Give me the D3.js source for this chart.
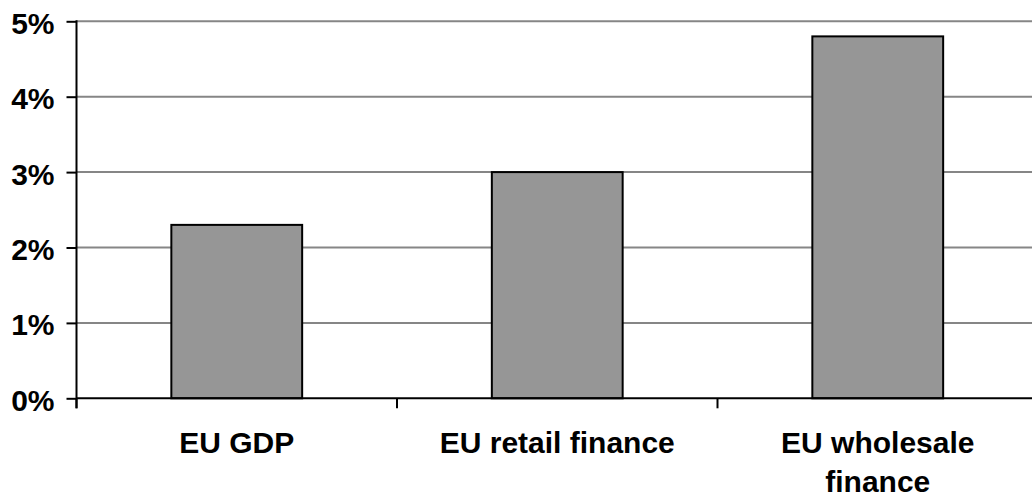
<!DOCTYPE html>
<html>
<head>
<meta charset="utf-8">
<script src="https://cdn.jsdelivr.net/npm/d3@7"></script>
<style>
  html, body { margin: 0; padding: 0; background: #fff; }
  svg { display: block; }
  text { font-family: "Liberation Sans", Arial, sans-serif; font-weight: bold; fill: #000; }
</style>
</head>
<body>
<svg id="chart" width="1032" height="498"></svg>
<script>
// Growth rates by sector (percent)
const categories = ["EU GDP", "EU retail finance", "EU wholesale finance"];
const growth = [2.3, 3.0, 4.8];
const yTicks = [0, 1, 2, 3, 4, 5];

const svg = d3.select("#chart");
const plotLeft = 76.5, plotTop = 21.3, plotBottom = 398.3;
const bandW = 320.5;

const x = d3.scaleBand()
  .domain(categories)
  .range([plotLeft, plotLeft + bandW * categories.length])
  .padding(0);

const y = d3.scaleLinear().domain([0, 5]).range([plotBottom, plotTop]);

const barW = x.bandwidth() / 2.45;

// Horizontal gridlines
svg.append("g")
  .selectAll("line")
  .data(yTicks.filter(d => d > 0))
  .join("line")
  .attr("x1", plotLeft).attr("x2", 1040)
  .attr("y1", d => y(d)).attr("y2", d => y(d))
  .attr("stroke", "#868686")
  .attr("stroke-width", 2);

// Bars
svg.append("g")
  .selectAll("rect")
  .data(categories.map((c, i) => ({ c, v: growth[i] })))
  .join("rect")
  .attr("x", d => x(d.c) + (x.bandwidth() - barW) / 2)
  .attr("width", barW)
  .attr("y", d => y(d.v))
  .attr("height", d => y(0) - y(d.v))
  .attr("fill", "#969696")
  .attr("stroke", "#000")
  .attr("stroke-width", 2);

// Category axis along the zero line
const xAxis = svg.append("g").attr("transform", `translate(0,${plotBottom})`);
xAxis.append("line")
  .attr("x1", plotLeft).attr("x2", 1040)
  .attr("stroke", "#000").attr("stroke-width", 2);
const bounds = categories.map(c => x(c)).concat([x.range()[1]]);
xAxis.selectAll("line.tick")
  .data(bounds)
  .join("line")
  .attr("class", "tick")
  .attr("x1", d => d).attr("x2", d => d)
  .attr("y1", 0).attr("y2", 10)
  .attr("stroke", "#000").attr("stroke-width", 2);

// Category labels, wrapped when too wide
const labels = svg.append("g")
  .selectAll("text")
  .data(categories)
  .join("text")
  .attr("text-anchor", "middle")
  .attr("font-size", 30)
  .attr("x", d => x(d) + x.bandwidth() / 2)
  .attr("y", 453);

labels.each(function (d) {
  const t = d3.select(this);
  const words = d.split(" ");
  const cx = +t.attr("x");
  let line = [];
  const lines = [];
  const probe = t.append("tspan");
  words.forEach(w => {
    const trial = line.concat([w]).join(" ");
    probe.text(trial);
    if (probe.node().getComputedTextLength() > 280 && line.length) {
      lines.push(line.join(" "));
      line = [w];
    } else {
      line.push(w);
    }
  });
  lines.push(line.join(" "));
  probe.remove();
  lines.forEach((l, i) => {
    t.append("tspan").attr("x", cx).attr("dy", i === 0 ? 0 : 39).text(l);
  });
});

// Value axis
const yAxis = svg.append("g")
  .attr("transform", `translate(${plotLeft},0)`)
  .call(d3.axisLeft(y).tickValues(yTicks).tickFormat(d => d + "%")
    .tickSizeInner(10).tickSizeOuter(0).tickPadding(12));
yAxis.select(".domain").remove();
yAxis.selectAll(".tick line").attr("stroke", "#000").attr("stroke-width", 2);
yAxis.selectAll(".tick text")
  .attr("font-size", 30)
  .attr("font-family", "Liberation Sans, Arial, sans-serif")
  .attr("font-weight", "bold")
  .attr("fill", "#000")
  .attr("dy", "0.4em");
yAxis.append("line")
  .attr("x1", 0).attr("x2", 0)
  .attr("y1", plotTop - 1).attr("y2", plotBottom + 10)
  .attr("stroke", "#000").attr("stroke-width", 2);
</script>
</body>
</html>
